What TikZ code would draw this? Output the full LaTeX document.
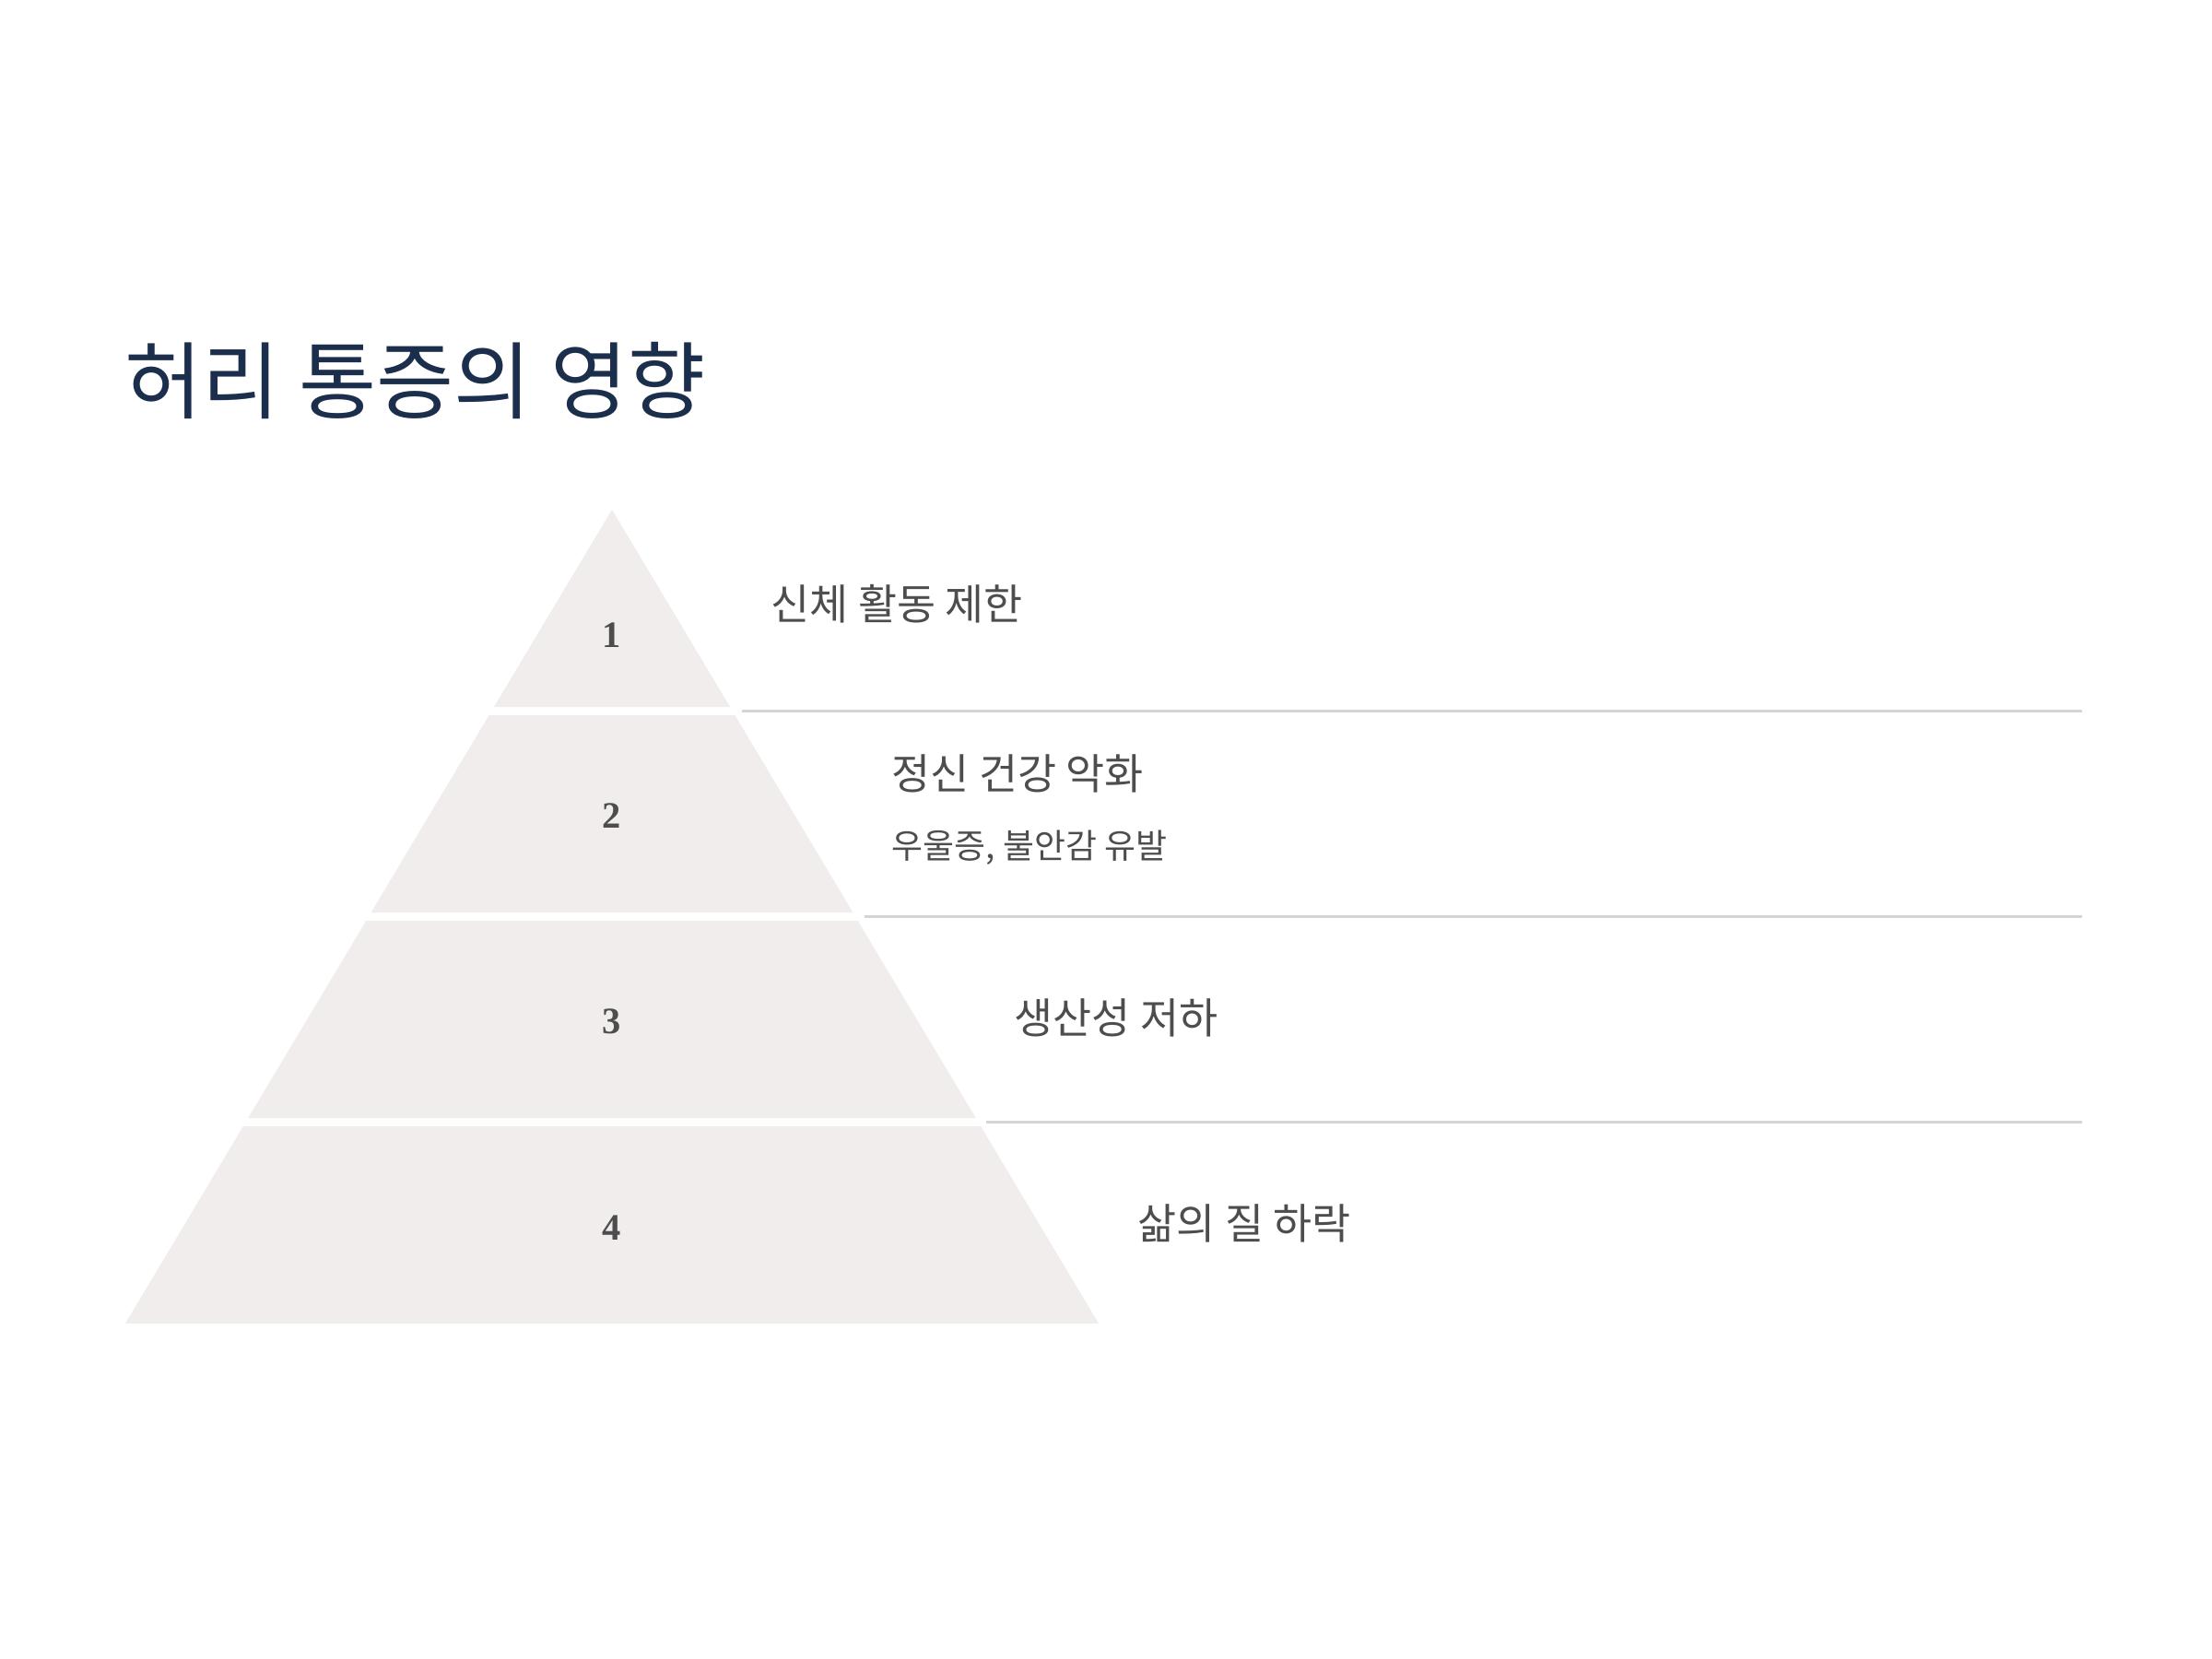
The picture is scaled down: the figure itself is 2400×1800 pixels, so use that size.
\documentclass[tikz,border=0pt]{standalone}
\usepackage{fontspec}
\setmainfont{Liberation Serif}
\newfontfamily\krfont{Noto Sans CJK KR}
\definecolor{titlecol}{HTML}{1B2E4B}
\definecolor{txtcol}{HTML}{4D4D4D}
\definecolor{tierfill}{HTML}{F0EDEC}
\definecolor{rulecol}{HTML}{D5D5D5}
\begin{document}
\begin{tikzpicture}[x=0.01cm,y=-0.01cm,
  tier/.style={fill=tierfill,draw=none},
  num/.style={text=txtcol,font=\fontsize{11.5}{13}\selectfont\bfseries,inner sep=0pt},
  item/.style={text=txtcol,font=\krfont\fontsize{13}{15}\selectfont,anchor=west,inner sep=0pt},
  subitem/.style={text=txtcol,font=\krfont\fontsize{10.5}{12}\selectfont,anchor=west,inner sep=0pt},
  divider/.style={draw=rulecol,line width=0.7pt}]
\useasboundingbox[fill=white] (0,0) rectangle (2400,1800);
% title
\node[anchor=west,inner sep=0pt,text=titlecol,font=\krfont\fontsize{26}{31}\selectfont] (title) at (135,413) {허리 통증의 영향};
% tiers
\path[tier] (664,553) -- (792,767) -- (536,767) -- cycle;
\path[tier] (530.6,776) -- (797.4,776) -- (925.3,990) -- (402.7,990) -- cycle;
\path[tier] (397.3,999) -- (930.7,999) -- (1058.7,1213) -- (269.3,1213) -- cycle;
\path[tier] (263.9,1222) -- (1064.1,1222) -- (1192,1436) -- (136,1436) -- cycle;
% numbers
\node[num] (n1) at (664,689) {1};
\node[num] (n2) at (664,885) {2};
\node[num] (n3) at (664,1108) {3};
\node[num] (n4) at (664,1332) {4};
% dividers
\coordinate (d1a) at (805,771.5);  \coordinate (d1b) at (2259,771.5);
\coordinate (d2a) at (938,994.5);  \coordinate (d2b) at (2259,994.5);
\coordinate (d3a) at (1070,1217.5); \coordinate (d3b) at (2259,1217.5);
\draw[divider] (d1a) -- (d1b);
\draw[divider] (d2a) -- (d2b);
\draw[divider] (d3a) -- (d3b);
% texts
\node[item] (t1) at (836,655) {신체 활동 제한};
\node[item] (t2) at (967,839) {정신 건강 악화};
\node[subitem] (t2s) at (967,920) {우울증, 불안감 유발};
\node[item] (t3) at (1100,1104) {생산성 저하};
\node[item] (t4) at (1234,1327) {삶의 질 하락};
\end{tikzpicture}
\end{document}
